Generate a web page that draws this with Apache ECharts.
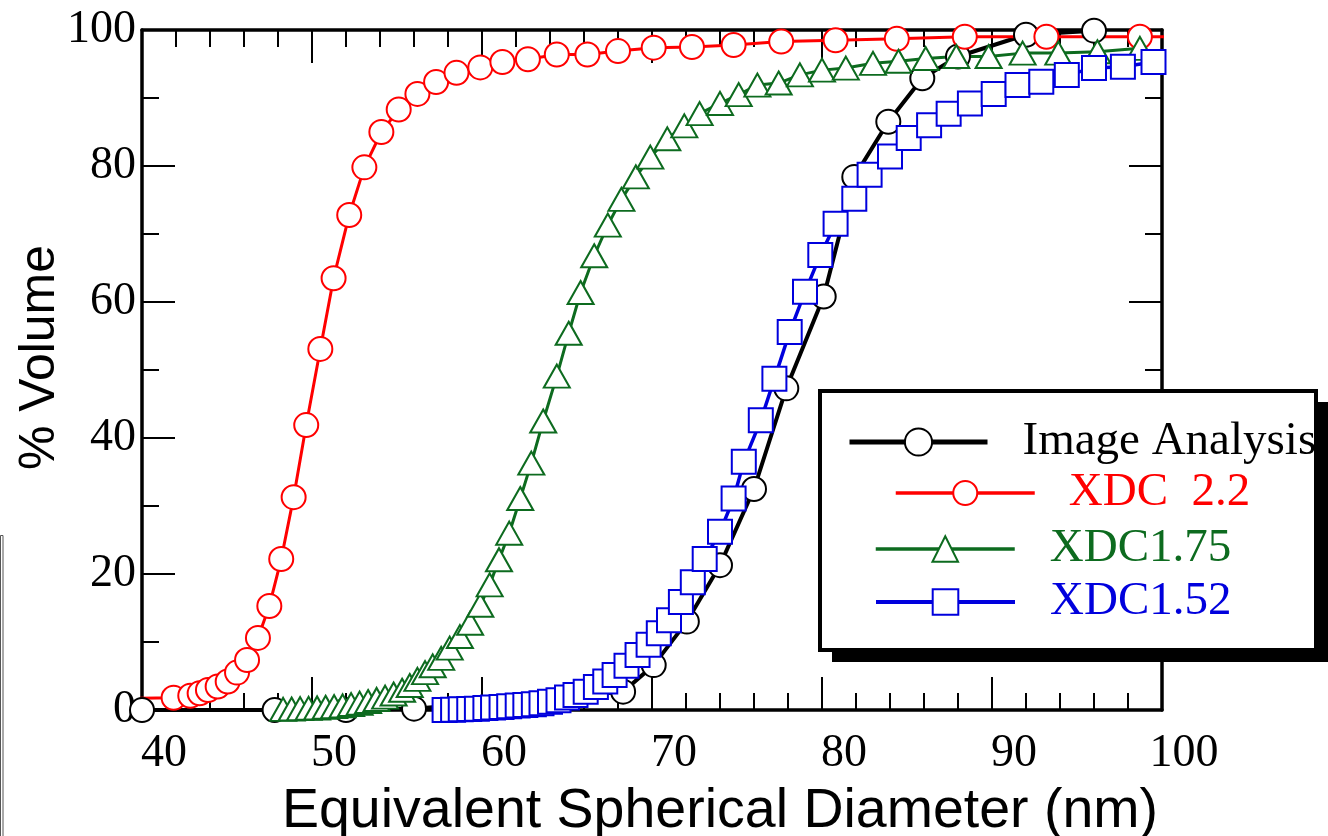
<!DOCTYPE html>
<html>
<head>
<meta charset="utf-8">
<script src="https://cdn.jsdelivr.net/npm/echarts@6/dist/echarts.min.js"></script>
<style>
  html, body { margin: 0; padding: 0; background: #ffffff; }
  #chart { width: 1328px; height: 836px; }
</style>
</head>
<body>
<div id="chart"></div>
<script>
// Cumulative particle size distributions: [diameter (nm), % volume]
const seriesNames = ['Image Analysis', 'XDC  2.2', 'XDC1.75', 'XDC1.52'];

const imageAnalysis = [
  [40, 0], [47.8, 0], [52.0, 0], [56.0, 0.2], [68.3, 2.7], [70.1, 6.6],
  [72.05, 13.0], [74.0, 21.3], [76.0, 32.5], [77.9, 47.3], [80.1, 60.8],
  [81.9, 78.4], [83.9, 86.5], [85.9, 92.9], [88.0, 96.1], [92.0, 99.3],
  [96.0, 99.9]
];

const xdc22 = [
  [38.5, 1.7], [41.86, 1.8], [42.84, 2.1], [43.39, 2.45], [43.88, 2.95],
  [44.45, 3.45], [45.04, 4.2], [45.59, 5.5], [46.18, 7.35], [46.82, 10.6],
  [47.49, 15.3], [48.19, 22.2], [48.92, 31.3], [49.66, 41.9], [50.49, 53.1],
  [51.27, 63.5], [52.19, 72.8], [53.08, 79.8], [54.08, 85.0], [55.1, 88.3],
  [56.2, 90.6], [57.3, 92.35], [58.5, 93.7], [59.9, 94.5], [61.2, 95.3],
  [62.7, 95.7], [64.4, 96.4], [66.2, 96.4], [68.0, 96.9], [70.1, 97.4],
  [72.35, 97.5], [74.8, 97.8], [77.6, 98.3], [80.8, 98.5], [84.4, 98.7],
  [88.4, 99.0], [93.2, 99.0], [98.7, 99.0], [101, 99.0]
];

const xdc175 = [
  [48.3, 0.1], [48.8, 0.15], [49.3, 0.2], [49.8, 0.25], [50.3, 0.3],
  [50.8, 0.4], [51.3, 0.5], [51.8, 0.6], [52.3, 0.8], [52.8, 1.0],
  [53.3, 1.25], [53.8, 1.55], [54.3, 1.9], [54.8, 2.35], [55.3, 2.9],
  [55.75, 3.6], [56.2, 4.5], [56.65, 5.5], [57.1, 6.5], [57.6, 7.6],
  [58.1, 9.1], [58.7, 10.8], [59.3, 12.75], [59.9, 15.4], [60.45, 18.4],
  [61.0, 22.1], [61.6, 26.0], [62.25, 31.1], [62.9, 36.3], [63.6, 42.5],
  [64.4, 49.1], [65.1, 55.4], [65.8, 61.4], [66.6, 66.8], [67.4, 71.3],
  [68.2, 75.1], [69.05, 78.4], [69.9, 81.3], [70.9, 84.0], [71.9, 85.9],
  [72.8, 87.7], [74.0, 89.2], [75.1, 90.5], [76.2, 91.9], [77.45, 92.2],
  [78.7, 93.4], [80.0, 94.1], [81.4, 94.4], [83.0, 95.1], [84.5, 95.4],
  [86.1, 95.8], [87.9, 96.1], [89.8, 96.1], [91.8, 96.6], [93.9, 96.6],
  [96.2, 96.8], [98.7, 97.3]
];

const xdc152 = [
  [57.8, 0.0], [58.3, 0.05], [58.75, 0.1], [59.25, 0.15], [59.7, 0.2],
  [60.2, 0.3], [60.65, 0.35], [61.15, 0.45], [61.6, 0.55], [62.1, 0.65],
  [62.55, 0.75], [63.05, 0.85], [63.5, 1.0], [64.0, 1.2], [64.5, 1.45],
  [65.0, 1.85], [65.5, 2.2], [66.1, 2.7], [66.7, 3.4], [67.25, 4.2],
  [67.8, 5.15], [68.5, 6.5], [69.15, 8.1], [69.8, 9.6], [70.4, 11.3],
  [71.0, 13.2], [71.7, 15.9], [72.4, 18.8], [73.1, 22.2], [74.0, 26.2],
  [74.8, 31.1], [75.4, 36.5], [76.4, 42.6], [77.2, 48.7], [78.1, 55.6],
  [79.0, 61.5], [79.9, 66.9], [80.8, 71.5], [81.9, 75.2], [82.8, 78.7],
  [84.0, 81.4], [85.1, 84.1], [86.3, 86.0], [87.45, 87.7], [88.7, 89.2],
  [90.1, 90.6], [91.5, 91.9], [92.9, 92.4], [94.4, 93.4], [96.0, 94.4],
  [97.7, 94.6], [99.5, 95.3]
];

const xRange = [40, 100];
const yRange = [0, 100];
const xTitle = 'Equivalent Spherical Diameter (nm)';
const yTitle = '% Volume';

const BLACK = '#000000';
const RED = '#ff0000';
const GREEN = '#0d6b1f';
const BLUE = '#0000dd';

const serif = 'Liberation Serif, Times New Roman, serif';
const sans = 'Liberation Sans, Arial, sans-serif';

const chart = echarts.init(document.getElementById('chart'), null, { renderer: 'canvas' });

function frameX(position, showLabel) {
  return {
    type: 'value', position: position, min: xRange[0], max: xRange[1], interval: 10,
    axisLine: { show: true, onZero: false, lineStyle: { color: BLACK, width: 3.5 } },
    axisTick: { show: true, inside: true, length: 33, lineStyle: { color: BLACK, width: 2 } },
    minorTick: { show: true, splitNumber: 5, length: 17, lineStyle: { color: BLACK, width: 2 } },
    splitLine: { show: false }, minorSplitLine: { show: false },
    axisLabel: showLabel ? {
      show: true, color: BLACK, fontFamily: serif, fontSize: 46, margin: 21,
      padding: [0, 0, 0, 44]
    } : { show: false }
  };
}

function frameY(position, showLabel) {
  return {
    type: 'value', position: position, min: yRange[0], max: yRange[1], interval: 20,
    axisLine: { show: true, onZero: false, lineStyle: { color: BLACK, width: 3.5 } },
    axisTick: { show: true, inside: true, length: 33, lineStyle: { color: BLACK, width: 2 } },
    minorTick: { show: true, splitNumber: 2, length: 17, lineStyle: { color: BLACK, width: 2 } },
    splitLine: { show: false }, minorSplitLine: { show: false },
    axisLabel: showLabel ? {
      show: true, color: BLACK, fontFamily: serif, fontSize: 46, margin: 6
    } : { show: false }
  };
}

const xBottom = frameX('bottom', true);
xBottom.name = xTitle;
xBottom.nameLocation = 'middle';
xBottom.nameGap = 74;
xBottom.nameMoveOverlap = false;
xBottom.nameTextStyle = { color: BLACK, fontFamily: sans, fontSize: 55.5, padding: [0, 0, 0, 136] };

const yLeft = frameY('left', true);
yLeft.name = yTitle;
yLeft.nameLocation = 'middle';
yLeft.nameGap = 77;
yLeft.nameRotate = 90;
yLeft.nameMoveOverlap = false;
yLeft.nameTextStyle = { color: BLACK, fontFamily: sans, fontSize: 50, padding: [0, 0, 0, 25] };

function lineSeries(name, data, color, symbol, size, lineWidth, borderWidth) {
  return {
    name: name, type: 'line', data: data,
    xAxisIndex: 0, yAxisIndex: 0,
    symbol: symbol, symbolSize: size, showSymbol: true, showAllSymbol: true,
    clip: true,
    lineStyle: { color: color, width: lineWidth },
    itemStyle: { color: color, borderWidth: borderWidth },
    emphasis: { disabled: true },
    animation: false
  };
}

function legendEntry(name, left, centerY, width, height, color, lineWidth, padLeft) {
  return {
    data: [name], left: left, top: centerY - 24, orient: 'horizontal',
    padding: 0, itemGap: 0, itemWidth: width, itemHeight: height,
    selectedMode: false,
    lineStyle: { width: lineWidth },
    textStyle: {
      color: color, fontFamily: serif, fontSize: 47, lineHeight: 48,
      padding: [0, 0, 0, padLeft]
    }
  };
}

const option = {
  backgroundColor: '#ffffff',
  animation: false,
  grid: {
    left: 142, right: 166, top: 30, bottom: 126,
    containLabel: false, outerBoundsMode: 'none'
  },
  xAxis: [xBottom, frameX('top', false)],
  yAxis: [yLeft, frameY('right', false)],
  legend: [
    legendEntry(seriesNames[0], 847, 442, 138, 34, BLACK, 5, 30),
    legendEntry(seriesNames[1], 894, 493, 139, 30, RED, 3.5, 29),
    legendEntry(seriesNames[2], 874, 549, 139, 32, GREEN, 3.5, 30),
    legendEntry(seriesNames[3], 874, 602, 139, 32, BLUE, 4, 30)
  ],
  graphic: [
    // legend frame: drop shadow then box
    { type: 'rect', z: 1, silent: true,
      shape: { x: 832, y: 402, width: 496, height: 260 },
      style: { fill: '#000000' } },
    { type: 'rect', z: 2, silent: true,
      shape: { x: 820, y: 391, width: 496, height: 259 },
      style: { fill: '#ffffff', stroke: '#000000', lineWidth: 4 } },
    // thin frame edge at the far left
    { type: 'rect', z: 1, silent: true,
      shape: { x: 0.5, y: 535.5, width: 2.5, height: 310 },
      style: { fill: 'none', stroke: '#555555', lineWidth: 1 } }
  ],
  series: [
    lineSeries(seriesNames[0], imageAnalysis, BLACK, 'emptyCircle', 24, 4, 2.5),
    lineSeries(seriesNames[1], xdc22, RED, 'emptyCircle', 24, 3, 2.5),
    lineSeries(seriesNames[2], xdc175, GREEN, 'emptyTriangle', [26, 23], 3, 2.5),
    lineSeries(seriesNames[3], xdc152, BLUE, 'emptyRect', 24, 3.5, 2.5)
  ]
};

chart.setOption(option);
</script>
</body>
</html>
